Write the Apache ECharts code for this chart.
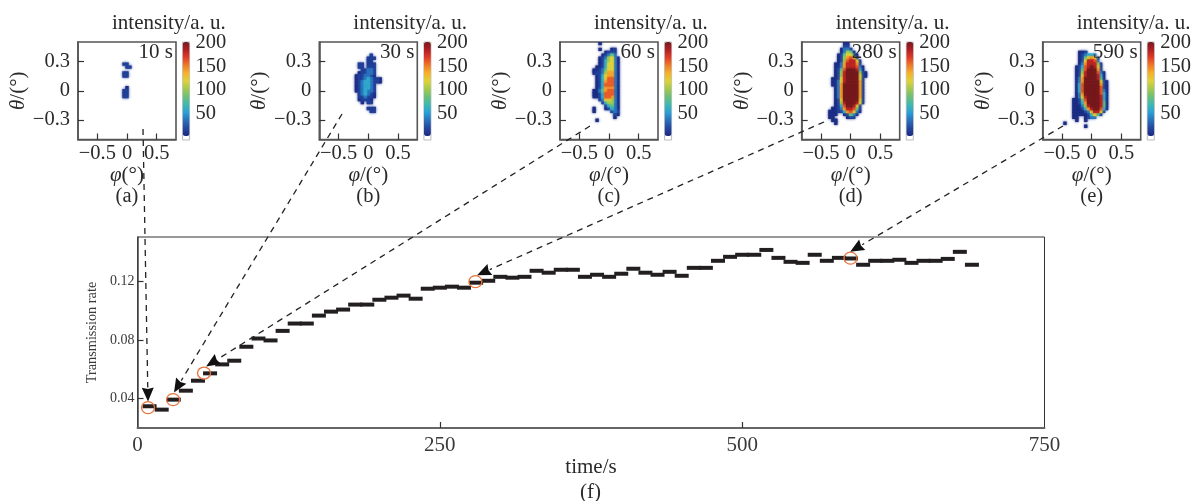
<!DOCTYPE html>
<html>
<head>
<meta charset="utf-8">
<style>html,body{margin:0;padding:0;background:#fff}#c{width:1195px;height:501px}</style>
<script src="https://cdn.jsdelivr.net/npm/echarts@6/dist/echarts.min.js"></script>
</head>
<body>
<div id="c"></div>
<script>
// ---- main chart values
const times = [10,20,30,40,50,60,70,80,90,100,110,120,130,140,150,160,170,180,190,200,210,220,230,240,250,260,270,280,290,300,310,320,330,340,350,360,370,380,390,400,410,420,430,440,450,460,470,480,490,500,510,520,530,540,550,560,570,580,590,600,610,620,630,640,650,660,670,680,690];
const transmission = [0.0348,0.0325,0.0393,0.0454,0.0522,0.0572,0.0633,0.0658,0.0753,0.0809,0.0796,0.0861,0.0911,0.0911,0.0965,0.0992,0.1006,0.1040,0.1040,0.1073,0.1087,0.1101,0.1080,0.1148,0.1155,0.1162,0.1155,0.1189,0.1202,0.1229,0.1223,0.1229,0.1270,0.1257,0.1277,0.1277,0.1229,0.1243,0.1229,0.1250,0.1284,0.1257,0.1243,0.1263,0.1236,0.1290,0.1290,0.1338,0.1365,0.1379,0.1379,0.1412,0.1358,0.1331,0.1324,0.1379,0.1338,0.1358,0.1354,0.1311,0.1338,0.1338,0.1345,0.1324,0.1338,0.1338,0.1351,0.1399,0.1311];
// orange rings and arrow tips (time, rate)
const ringTimes = [8.7,29.4,55,279.4,589.6];
const ringRates = [0.0339,0.0393,0.0574,0.1196,0.1356];
const tipTimes = [8.7,30.2,56.7,280.8,589.3];
const tipRates = [0.0380,0.0441,0.0619,0.1240,0.1399];
const xTicks = [0,250,500,750];
const yTicks = [0.04,0.08,0.12];
// ---- inset values: [row, first column, intensity/20 per cell]; "0" is about 10, "a" is 200, "." is empty
const spotsA = [[7,15,"11"],[8,16,"11"],[10,15,"11"],[11,15,"11"],[15,16,"0"],[16,15,"11"],[17,15,"11"],[18,15,"11"]];
const spotsB = [[4,17,"1"],[5,16,"111"],[6,16,"11"],[7,13,"11.111"],[8,13,"11.111"],[9,14,"11221"],[10,13,"011221"],[11,12,"0112210"],[12,12,"011232110"],[13,12,"012332110"],[14,12,"0123321"],[15,12,"0123321"],[16,12,"0123221"],[17,13,"123210"],[18,13,"112110"],[19,13,"01110"],[20,14,"0.11"],[22,16,"111"],[23,17,"11"]];
const spotsC = [[0,13,"0"],[2,13,"0"],[2,17,"01"],[3,15,"0111"],[4,14,"01242"],[5,13,"0125620"],[6,13,"0135620"],[7,13,"0136620"],[8,12,"00136620"],[9,11,"001246620"],[10,11,"011257720"],[11,12,"01367720"],[12,12,"01368820"],[13,12,"01378820"],[14,12,"01388820"],[15,12,"01377720"],[16,11,"002478820"],[17,11,"001388820"],[18,11,"001388720"],[19,13,"1266520"],[20,14,"135520"],[21,15,"13420"],[22,11,"0"],[22,15,"01320"],[23,11,"0"],[23,17,"121"],[24,18,"10"],[25,18,"0"],[26,12,"0"]];
const spotsD = [[0,14,"00"],[1,14,"11"],[2,13,"0221"],[3,13,"02540"],[4,12,"0146620"],[5,12,"0157861"],[6,12,"01589961"],[7,11,"002799971"],[8,11,"0027999820"],[9,11,"0148aaa930"],[10,11,"0159aaaa510"],[11,11,"0159aaaa610"],[12,10,"00169aaaa61"],[13,10,"00269aaaa71"],[14,10,"0027aaaaa71"],[15,11,"027aaaaa71"],[16,11,"027aaaaa71"],[17,11,"027aaaaa71"],[18,11,"027aaaaa71"],[19,11,"016aaaaa61"],[20,11,"0159aaa961"],[21,11,"0138aa961"],[22,10,"0012799841"],[23,9,"00011378620"],[24,9,"000"],[24,14,"01420"],[25,9,"00"],[25,15,"011"],[26,10,"00"],[27,11,"0"]];
const spotsE = [[3,12,"001"],[4,12,"012332"],[5,12,"0146761"],[6,12,"0169982"],[7,12,"02799951"],[8,11,"01389a961"],[9,11,"0148aaa71"],[10,11,"0159aaa820"],[11,11,"0169aaa930"],[12,11,"027aaaa940"],[13,11,"027aaaaa610"],[14,11,"038aaaaa710"],[15,11,"038aaaaa810"],[16,11,"038aaaaa820"],[17,11,"027aaaaa830"],[18,11,"0269aaaa930"],[19,10,"00148aaaa930"],[20,10,"00137aaaa940"],[21,10,"000259aaa940"],[22,10,"0001379aa830"],[23,10,"00001269961"],[24,10,"0000013641"],[25,10,"00"],[25,14,"0122"],[26,11,"0"],[26,14,"0"],[27,7,"0"],[28,14,"0"]];
const panelSpots = [spotsA,spotsB,spotsC,spotsD,spotsE];
const panelTimes = ['10 s','30 s','60 s','280 s','590 s'];
const panelLetters = ['(a)','(b)','(c)','(d)','(e)'];
const phiNames = ['{i|φ}(°)','{i|φ}/(°)','{i|φ}/(°)','{i|φ}/(°)','{i|φ}/(°)'];
const phiTicks = [-0.5,0,0.5];
const thetaTicks = [-0.3,0,0.3];
const barTicks = [50,100,150,200];
const barColors = ['#1c2a80','#24469f','#2a70bb','#2ba0d5','#3fb8b0','#6cbf78','#a3c94f','#dcd23a','#f4b32c','#ef7c28','#e13d28','#b02024','#761a1e'];

// ---- layout
const FONT = '"Liberation Serif", "Times New Roman", serif';
const INK = '#2a2a2a';
const panelLeft = [78,319.3,560,801.7,1042.7];
const panelTop = 42, panelW = 98, panelH = 97.5;
const barOffset = 104.6, barW = 7;
const PHI_MAX = 0.825, THETA_MAX = 0.5, CELLS = 33;
const cellPhi = 2*PHI_MAX/CELLS, cellTheta = 2*THETA_MAX/CELLS;
const arrowStarts = [[143,129],[342,114],[590,126],[824,122],[1063,126]];

function cells(spots){
  const out = [];
  spots.forEach(([r,c0,s])=>{
    [...s].forEach((ch,i)=>{
      if(ch==='.') return;
      const d = ch==='a'?10:Number(ch);
      out.push([-PHI_MAX+(c0+i+0.5)*cellPhi, THETA_MAX-(r+0.5)*cellTheta, d===0?10:d*20]);
    });
  });
  return out.sort((a,b)=>a[2]-b[2]);
}
const minus = v => String(v).replace('-','\u2212');

const grids=[],xAxes=[],yAxes=[],series=[],visualMaps=[],graphics=[];
panelLeft.forEach((L,i)=>{
  grids.push({left:L,top:panelTop,width:panelW,height:panelH,show:true,borderColor:'#555',borderWidth:1.6,backgroundColor:'#fff'});
  xAxes.push({type:'value',gridIndex:i,min:-PHI_MAX,max:PHI_MAX,position:'bottom',
    name:phiNames[i],nameLocation:'middle',nameGap:24,
    nameTextStyle:{fontFamily:FONT,fontSize:21,color:INK,rich:{i:{fontFamily:FONT,fontSize:21,fontStyle:'italic',color:INK}}},
    axisLine:{show:true,onZero:false,lineStyle:{color:'#555',width:1.6}},splitLine:{show:false},
    axisTick:{show:true,inside:true,length:6,customValues:phiTicks,lineStyle:{color:'#333',width:1.2}},
    axisLabel:{customValues:phiTicks,formatter:minus,margin:4,fontFamily:FONT,fontSize:20.5,color:INK}});
  yAxes.push({type:'value',gridIndex:i,min:-THETA_MAX,max:THETA_MAX,position:'left',
    name:'{i|θ}/(°)',nameLocation:'middle',nameRotate:90,nameGap:45,
    nameTextStyle:{fontFamily:FONT,fontSize:21,color:INK,rich:{i:{fontFamily:FONT,fontSize:21,fontStyle:'italic',color:INK}}},
    axisLine:{show:true,onZero:false,lineStyle:{color:'#555',width:1.6}},splitLine:{show:false},
    axisTick:{show:true,inside:true,length:6,customValues:thetaTicks,lineStyle:{color:'#333',width:1.2}},
    axisLabel:{customValues:thetaTicks,formatter:minus,margin:8,fontFamily:FONT,fontSize:20.5,color:INK}});
  series.push({type:'custom',coordinateSystem:'cartesian2d',xAxisIndex:i,yAxisIndex:i,silent:true,clip:true,
    encode:{x:0,y:1},data:cells(panelSpots[i]),
    renderItem:(p,api)=>{
      const c=api.coord([api.value(0),api.value(1)]);
      const s=api.size([cellPhi,cellTheta]);
      const col=api.visual('color');
      return {type:'rect',shape:{x:c[0]-s[0]/2-0.2,y:c[1]-s[1]/2-0.2,width:s[0]+0.4,height:s[1]+0.4},style:{fill:col,shadowBlur:2.5,shadowColor:col}};
    }});
  visualMaps.push({type:'continuous',seriesIndex:i,dimension:2,min:8,max:200,show:true,calculable:false,hoverLink:false,
    left:L+barOffset,top:panelTop,itemWidth:barW,itemHeight:94,padding:0,text:null,showLabel:false,
    inRange:{color:barColors}});
  graphics.push(
    {type:'text',z:20,x:L+34,y:23,style:{text:'intensity/a. u.',fontFamily:FONT,fontSize:21,fill:INK,align:'left',verticalAlign:'middle'}},
    {type:'text',z:20,x:L+95,y:52,style:{text:panelTimes[i],fontFamily:FONT,fontSize:21,fill:INK,align:'right',verticalAlign:'middle'}},
    {type:'text',z:20,x:L+49,y:197,style:{text:panelLetters[i],fontFamily:FONT,fontSize:20.5,fill:INK,align:'center',verticalAlign:'middle'}}
  );
});
// colour-bar axes
panelLeft.forEach((L,i)=>{
  const k=grids.length;
  grids.push({left:L+barOffset,top:panelTop,width:barW,height:98,show:true,borderColor:'#bbb',borderWidth:1,backgroundColor:'#fff'});
  xAxes.push({type:'value',gridIndex:k,min:0,max:1,show:false});
  yAxes.push({type:'value',gridIndex:k,min:-6,max:202,position:'right',
    axisLine:{show:false},axisTick:{show:false},splitLine:{show:false},
    axisLabel:{customValues:barTicks,margin:6,fontFamily:FONT,fontSize:20.5,color:INK}});
});
// main chart
const M=grids.length;
grids.push({left:137.5,top:237,width:907,height:191,show:true,borderColor:'#333',borderWidth:1,backgroundColor:'transparent'});
xAxes.push({type:'value',gridIndex:M,min:0,max:750,position:'bottom',
  name:'time/s',nameLocation:'middle',nameGap:29,nameTextStyle:{fontFamily:FONT,fontSize:21,color:INK},
  axisLine:{show:true,onZero:false,lineStyle:{color:'#666',width:2}},splitLine:{show:false},
  axisTick:{show:true,inside:true,length:6,customValues:[250,500],lineStyle:{color:'#333',width:1.2}},
  axisLabel:{customValues:xTicks,margin:7,fontFamily:FONT,fontSize:21,color:'#3a3a3a'}});
yAxes.push({type:'value',gridIndex:M,min:0.02,max:0.15,position:'left',
  name:'Transmission rate',nameLocation:'middle',nameRotate:90,nameGap:31,
  nameTextStyle:{fontFamily:FONT,fontSize:14.3,color:'#3a3a3a'},
  axisLine:{show:true,onZero:false,lineStyle:{color:'#444',width:1.5}},splitLine:{show:false},
  axisTick:{show:true,inside:true,length:6,customValues:yTicks,lineStyle:{color:'#333',width:1.2}},
  axisLabel:{customValues:yTicks,margin:3,fontFamily:FONT,fontSize:14,color:'#3a3a3a'}});
const pairs = times.map((t,i)=>[t,transmission[i]]);
const rings = ringTimes.map((t,i)=>[t,ringRates[i]]);
const tips = tipTimes.map((t,i)=>[t,tipRates[i]]);
series.push({type:'scatter',xAxisIndex:M,yAxisIndex:M,data:pairs,symbol:'rect',symbolSize:[14,4],silent:true,
  itemStyle:{color:'#231f20',opacity:1}});
series.push({type:'scatter',xAxisIndex:M,yAxisIndex:M,data:rings,symbol:'circle',symbolSize:[13,12],silent:true,z:5,
  itemStyle:{color:'rgba(0,0,0,0)',borderColor:'#e8743b',borderWidth:1.3,opacity:1}});
graphics.push({type:'text',z:20,x:590.5,y:492,style:{text:'(f)',fontFamily:FONT,fontSize:21,fill:INK,align:'center',verticalAlign:'middle'}});

const chart=echarts.init(document.getElementById('c'));
chart.setOption({animation:false,backgroundColor:'#fff',grid:grids,xAxis:xAxes,yAxis:yAxes,series,visualMap:visualMaps,graphic:graphics});

// dashed arrows: the tips go through the main axis scale
const arrows=[];
tips.forEach((pt,i)=>{
  const t=chart.convertToPixel({xAxisIndex:M,yAxisIndex:M},pt);
  const s=arrowStarts[i];
  const dx=s[0]-t[0],dy=s[1]-t[1],d=Math.hypot(dx,dy),ux=dx/d,uy=dy/d;
  const bx=t[0]+ux*14,by=t[1]+uy*14;
  arrows.push(
    {type:'line',z:30,silent:true,shape:{x1:s[0],y1:s[1],x2:bx,y2:by},style:{stroke:'#222',lineWidth:1.3,lineDash:[6,5]}},
    {type:'polygon',z:30,silent:true,shape:{points:[[t[0],t[1]],[bx-uy*6,by+ux*6],[bx-ux*1.5,by-uy*1.5],[bx+uy*6,by-ux*6]]},style:{fill:'#111'}}
  );
});
chart.setOption({graphic:graphics.concat(arrows)});
</script>
</body>
</html>
